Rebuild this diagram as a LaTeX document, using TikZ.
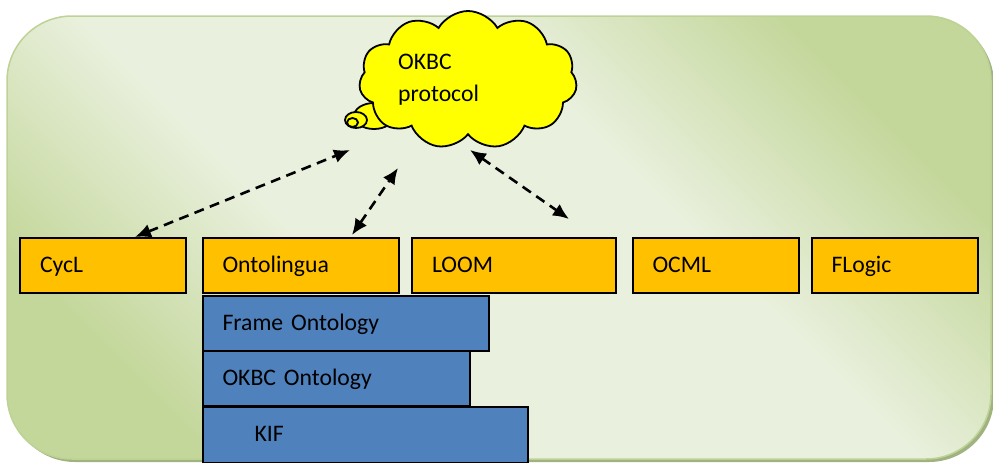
\documentclass[tikz,border=0pt]{standalone}
\usepackage{fontspec}
\setmainfont{Carlito}
\usetikzlibrary{shapes.symbols,shapes.geometric,arrows.meta,calc}
\definecolor{bgdark}{RGB}{196,215,155}
\definecolor{bglight}{RGB}{233,240,221}
\definecolor{bgedge}{RGB}{190,210,150}
\definecolor{bgshadow}{RGB}{160,178,128}
\definecolor{langfill}{RGB}{255,192,0}
\definecolor{ontofill}{RGB}{79,129,189}
\definecolor{cloudfill}{RGB}{255,255,0}
% light band along one diagonal, green towards the two other corners
\pgfdeclareverticalshading{panelshade}{100bp}{color(0bp)=(bgdark); color(25bp)=(bgdark); color(40bp)=(bglight); color(60bp)=(bglight); color(75bp)=(bgdark); color(100bp)=(bgdark)}
\begin{document}
\begin{tikzpicture}[x=1pt,y=-1pt,
  font=\fontsize{23.7pt}{32pt}\selectfont,
  box/.style={draw=black, line width=2pt, anchor=north west, outer sep=0pt,
    inner xsep=20pt, inner ysep=0pt, minimum height=55pt,
    text height=16pt, text depth=2.6pt, align=left},
  lang/.style={box, fill=langfill},
  onto/.style={box, fill=ontofill},
  link/.style={line width=2.6pt, dash pattern=on 10pt off 6.5pt,
    {Latex[length=16pt,width=14pt]}-{Latex[length=16pt,width=14pt]}},
  puff/.style={ellipse, draw=black, line width=1.8pt, fill=cloudfill, inner sep=0pt}
]
\useasboundingbox (0,0) rectangle (993,463);

% rounded panel with its drop shadow
\fill[bgshadow, rounded corners=65pt] (10,19) rectangle (994,462);
\path[shading=panelshade, shading angle=-45, draw=bgedge, line width=1.5pt,
  rounded corners=65pt] (7,16) rectangle (991,459);

% thought cloud
\node[puff, minimum width=40pt, minimum height=26pt] (puffA) at (374,116) {};
\node[cloud, cloud puffs=11, cloud puff arc=120, cloud ignores aspect,
  minimum width=218pt, minimum height=138pt, draw=black, line width=1.8pt,
  fill=cloudfill, inner sep=0pt] (cloud) at (468,80) {};
\node[puff, minimum width=22pt, minimum height=16pt] (puffB) at (356,120) {};
\node[puff, minimum width=11pt, minimum height=9pt] (puffC) at (352.5,122.5) {};
\node[anchor=north west, align=left, inner sep=0pt] (cloudtext) at (398,54) {OKBC\\protocol};

% languages
\node[lang, text width=126pt] (cycl) at (20,238) {CycL};
\node[lang, text width=156pt] (ontolingua) at (202.5,238) {Ontolingua};
\node[lang, text width=164pt] (loom) at (412,238) {LOOM};
\node[lang, text width=126pt] (ocml) at (632.5,238) {OCML};
\node[lang, text width=126pt] (flogic) at (811.5,238) {FLogic};

% Ontolingua layers
\node[onto, text width=246pt] (frame) at (202.5,296) {Frame Ontology};
\node[onto, text width=227pt] (okbcont) at (202.5,351) {OKBC Ontology};
\node[onto, text width=285pt, minimum height=56pt] (kif) at (202.5,406.5) {\hspace*{32pt}KIF};

% links to the protocol
\coordinate (cyclTop) at ($(cycl.north west)+(115,-1)$);
\coordinate (ontoTop) at ($(ontolingua.north west)+(149.5,-3)$);
\coordinate (loomEnd) at (569,219);
\coordinate (cloudA) at (350,150);
\coordinate (cloudB) at (398,168);
\coordinate (cloudC) at (470,150);
\draw[link] (cyclTop) -- (cloudA);
\draw[link] (ontoTop) -- (cloudB);
\draw[link] (cloudC) -- (loomEnd);
\end{tikzpicture}
\end{document}
